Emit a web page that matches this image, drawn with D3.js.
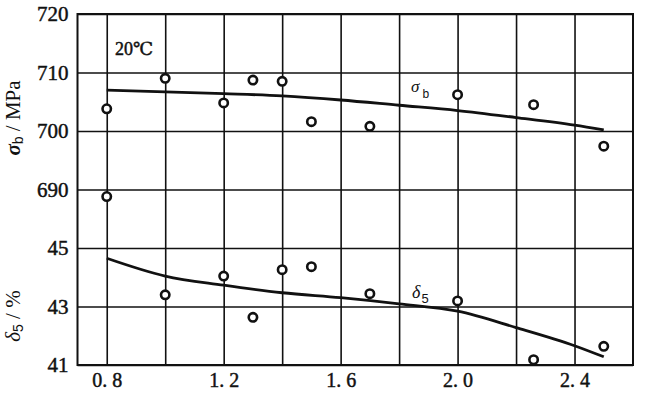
<!DOCTYPE html>
<html>
<head>
<meta charset="utf-8">
<script src="https://cdn.jsdelivr.net/npm/d3@7/dist/d3.min.js"></script>
<style>
  html, body { margin: 0; padding: 0; background: #fff; }
  svg { display: block; }
  text { font-family: "Liberation Serif", "DejaVu Serif", serif; fill: #111; }
  .num { stroke: #111; stroke-width: 0.45px; }
</style>
</head>
<body>
<svg id="chart" width="645" height="402"></svg>
<script>
// ---- data ----
const xGridValues = [0.8, 1.0, 1.2, 1.4, 1.6, 1.8, 2.0, 2.2, 2.4];
const xTickValues = [0.8, 1.2, 1.6, 2.0, 2.4];
const sigmaTicks = [720, 710, 700, 690];
const deltaTicks = [45, 43, 41];

// measured points: sigma_b (MPa)
const sigmaX = [0.8, 0.8, 1.0, 1.2, 1.3, 1.4, 1.5, 1.7, 2.0, 2.26, 2.5];
const sigmaY = [703.8, 688.8, 709.0, 704.8, 708.7, 708.5, 701.6, 700.8, 706.2, 704.5, 697.4];
// fitted curve sigma_b
const sigmaCurveX = [0.8, 1.2, 1.4, 1.6, 1.8, 2.0, 2.2, 2.4, 2.5];
const sigmaCurveY = [707.0, 706.4, 706.0, 705.3, 704.4, 703.5, 702.3, 701.0, 700.2];

// measured points: delta_5 (%)
const deltaX = [1.0, 1.2, 1.3, 1.4, 1.5, 1.7, 2.0, 2.26, 2.5];
const deltaY = [43.4, 44.04, 42.63, 44.26, 44.36, 43.44, 43.19, 41.18, 41.64];
// fitted curve delta_5
const deltaCurveX = [0.8, 1.0, 1.2, 1.4, 1.6, 1.8, 2.0, 2.2, 2.4, 2.5];
const deltaCurveY = [44.65, 44.04, 43.73, 43.47, 43.30, 43.09, 42.84, 42.28, 41.66, 41.28];

(function () {
// ---- layout ----
const svg = d3.select("#chart");
const pL = 77.5, pR = 633, pT = 14, pB = 365;
const rowH = (pB - pT) / 6;

const x = d3.scaleLinear().domain([0.7, 2.6]).range([pL, pR]);
const ySig = d3.scaleLinear().domain([690, 720]).range([pT + 3 * rowH, pT]);
const yDel = d3.scaleLinear().domain([41, 45]).range([pB, pT + 4 * rowH]);

const ink = "#111";

// vertical grid
const gx = svg.append("g")
  .attr("transform", `translate(0,${pB})`)
  .call(d3.axisBottom(x).tickValues(xGridValues).tickSize(-(pB - pT)).tickFormat(""));
gx.select(".domain").remove();
gx.selectAll("line").attr("stroke", ink).attr("stroke-width", 1.6);

// horizontal grid: sigma
const gs = svg.append("g")
  .attr("transform", `translate(${pL},0)`)
  .call(d3.axisLeft(ySig).tickValues(sigmaTicks).tickSize(-(pR - pL)).tickFormat(d3.format("d")).tickPadding(9));
gs.select(".domain").remove();
gs.selectAll("line").attr("stroke", ink).attr("stroke-width", 1.6);
gs.selectAll("text").attr("class", "num").attr("font-size", 21).attr("fill", ink).attr("font-family", "Liberation Serif");

// horizontal grid: delta
const gd = svg.append("g")
  .attr("transform", `translate(${pL},0)`)
  .call(d3.axisLeft(yDel).tickValues(deltaTicks).tickSize(-(pR - pL)).tickFormat(d3.format("d")).tickPadding(9));
gd.select(".domain").remove();
gd.selectAll("line").attr("stroke", ink).attr("stroke-width", 1.6);
gd.selectAll("text").attr("class", "num").attr("font-size", 21).attr("fill", ink).attr("font-family", "Liberation Serif");

// x tick labels
const gxl = svg.append("g")
  .attr("transform", `translate(0,${pB})`)
  .call(d3.axisBottom(x).tickValues(xTickValues).tickSize(0).tickPadding(8)
    .tickFormat(d => d3.format(".1f")(d).replace(".", ".\u00a0")));
gxl.select(".domain").remove();
gxl.selectAll("text").attr("class", "num").attr("font-size", 20).attr("fill", ink).attr("font-family", "Liberation Serif");

// frame
svg.append("rect")
  .attr("x", pL).attr("y", pT).attr("width", pR - pL).attr("height", pB - pT)
  .attr("fill", "none").attr("stroke", ink).attr("stroke-width", 2);

// curves
const lineSig = d3.line().x((d, i) => x(sigmaCurveX[i])).y(d => ySig(d)).curve(d3.curveMonotoneX);
svg.append("path").attr("d", lineSig(sigmaCurveY))
  .attr("fill", "none").attr("stroke", ink).attr("stroke-width", 2.8);

const lineDel = d3.line().x((d, i) => x(deltaCurveX[i])).y(d => yDel(d)).curve(d3.curveMonotoneX);
svg.append("path").attr("d", lineDel(deltaCurveY))
  .attr("fill", "none").attr("stroke", ink).attr("stroke-width", 2.8);

// points
svg.append("g").selectAll("circle").data(sigmaY).join("circle")
  .attr("cx", (d, i) => x(sigmaX[i])).attr("cy", d => ySig(d)).attr("r", 4.2)
  .attr("fill", "#fff").attr("stroke", ink).attr("stroke-width", 2.6);
svg.append("g").selectAll("circle").data(deltaY).join("circle")
  .attr("cx", (d, i) => x(deltaX[i])).attr("cy", d => yDel(d)).attr("r", 4.2)
  .attr("fill", "#fff").attr("stroke", ink).attr("stroke-width", 2.6);

// annotations
svg.append("text").attr("class", "num").attr("x", 115).attr("y", 55).attr("font-size", 18).text("20℃");

const sl = svg.append("text").attr("x", 411).attr("y", 92);
sl.append("tspan").attr("font-size", 17).attr("font-style", "italic").text("σ");
sl.append("tspan").attr("dx", 3).attr("dy", 6).attr("font-size", 12).attr("font-family", "Liberation Sans").text("b");

const dl = svg.append("text").attr("x", 412).attr("y", 298);
dl.append("tspan").attr("font-size", 18).attr("font-style", "italic").text("δ");
dl.append("tspan").attr("dx", 1).attr("dy", 5).attr("font-size", 13).attr("font-family", "Liberation Sans").text("5");

// y axis titles
const t1 = svg.append("text").attr("transform", "translate(20,118) rotate(-90)").attr("text-anchor", "middle").attr("font-size", 21);
t1.append("tspan").attr("font-style", "italic").attr("font-weight", "bold").text("σ");
t1.append("tspan").attr("dy", 3).attr("font-size", 14).attr("font-family", "Liberation Sans").text("b");
t1.append("tspan").attr("dy", -3).text(" / MPa");

const t2 = svg.append("text").attr("transform", "translate(20,316) rotate(-90)").attr("text-anchor", "middle").attr("font-size", 21);
t2.append("tspan").attr("font-style", "italic").text("δ");
t2.append("tspan").attr("dy", 3).attr("font-size", 14).attr("font-family", "Liberation Sans").text("5");
t2.append("tspan").attr("dy", -3).text(" / %");
})();
</script>
</body>
</html>
